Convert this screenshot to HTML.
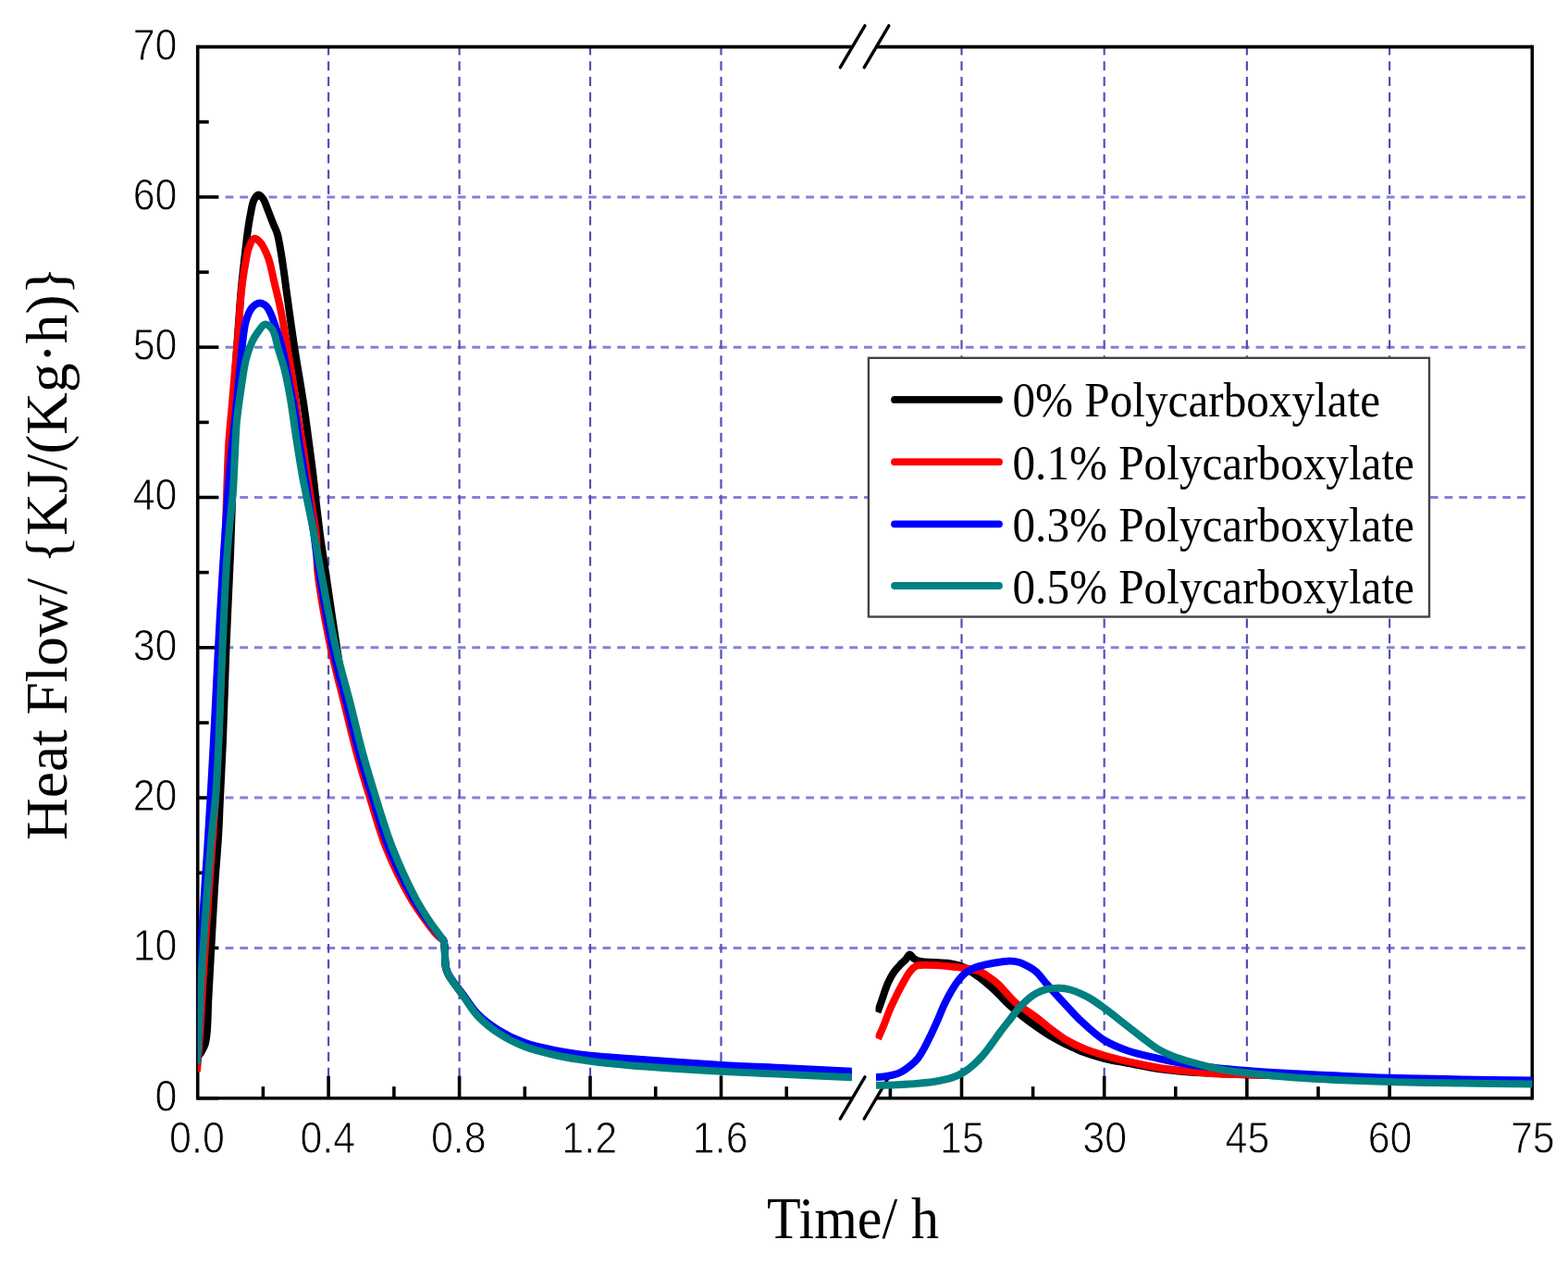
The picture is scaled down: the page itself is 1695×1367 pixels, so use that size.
<!DOCTYPE html>
<html><head><meta charset="utf-8"><title>Heat Flow</title>
<style>html,body{margin:0;padding:0;background:#fff;}body{width:1695px;height:1367px;overflow:hidden;}svg{display:block;filter:blur(0.45px);}text{font-family:"Liberation Sans",Arial,sans-serif;}.serif{font-family:"Liberation Serif","Times New Roman",serif;}</style>
</head><body>
<svg width="1695" height="1367" viewBox="0 0 1695 1367">
<rect x="0" y="0" width="1695" height="1367" fill="#fff"/>
<g stroke="#8580da" stroke-width="3" stroke-dasharray="8.8 6.89"><line x1="212.2" y1="1024.40" x2="1649.0" y2="1024.40"/><line x1="212.2" y1="862.10" x2="1649.0" y2="862.10"/><line x1="212.2" y1="699.80" x2="1649.0" y2="699.80"/><line x1="212.2" y1="537.50" x2="1649.0" y2="537.50"/><line x1="212.2" y1="375.20" x2="1649.0" y2="375.20"/><line x1="212.2" y1="212.90" x2="1649.0" y2="212.90"/></g>
<g stroke="#5250b4" stroke-width="2.2" stroke-dasharray="9.9 6.83"><line x1="355.1" y1="49.6" x2="355.1" y2="1186.7"/><line x1="496.6" y1="49.6" x2="496.6" y2="1186.7"/><line x1="638.0" y1="49.6" x2="638.0" y2="1186.7"/><line x1="779.5" y1="49.6" x2="779.5" y2="1186.7"/><line x1="1039.5" y1="49.6" x2="1039.5" y2="1186.7"/><line x1="1193.7" y1="49.6" x2="1193.7" y2="1186.7"/><line x1="1347.9" y1="49.6" x2="1347.9" y2="1186.7"/><line x1="1502.1" y1="49.6" x2="1502.1" y2="1186.7"/></g>
<g stroke="#000" stroke-width="3.6" stroke-linecap="butt"><line x1="213.7" y1="48.8" x2="213.7" y2="1188.5"/><line x1="1656.3" y1="48.8" x2="1656.3" y2="1188.5"/><line x1="213.7" y1="50.6" x2="921.2" y2="50.6"/><line x1="947.2" y1="50.6" x2="1656.3" y2="50.6"/><line x1="213.7" y1="1186.7" x2="921.2" y2="1186.7"/><line x1="947.2" y1="1186.7" x2="1656.3" y2="1186.7"/><line x1="213.7" y1="1186.7" x2="236.2" y2="1186.7"/><line x1="213.7" y1="1105.5" x2="225.7" y2="1105.5"/><line x1="213.7" y1="1024.4" x2="236.2" y2="1024.4"/><line x1="213.7" y1="943.2" x2="225.7" y2="943.2"/><line x1="213.7" y1="862.1" x2="236.2" y2="862.1"/><line x1="213.7" y1="781.0" x2="225.7" y2="781.0"/><line x1="213.7" y1="699.8" x2="236.2" y2="699.8"/><line x1="213.7" y1="618.6" x2="225.7" y2="618.6"/><line x1="213.7" y1="537.5" x2="236.2" y2="537.5"/><line x1="213.7" y1="456.4" x2="225.7" y2="456.4"/><line x1="213.7" y1="375.2" x2="236.2" y2="375.2"/><line x1="213.7" y1="294.1" x2="225.7" y2="294.1"/><line x1="213.7" y1="212.9" x2="236.2" y2="212.9"/><line x1="213.7" y1="131.8" x2="225.7" y2="131.8"/><line x1="284.4" y1="1186.7" x2="284.4" y2="1174.2"/><line x1="355.1" y1="1186.7" x2="355.1" y2="1162.7"/><line x1="425.9" y1="1186.7" x2="425.9" y2="1174.2"/><line x1="496.6" y1="1186.7" x2="496.6" y2="1162.7"/><line x1="567.3" y1="1186.7" x2="567.3" y2="1174.2"/><line x1="638.0" y1="1186.7" x2="638.0" y2="1162.7"/><line x1="708.7" y1="1186.7" x2="708.7" y2="1174.2"/><line x1="779.5" y1="1186.7" x2="779.5" y2="1162.7"/><line x1="850.2" y1="1186.7" x2="850.2" y2="1174.2"/><line x1="962.4" y1="1186.7" x2="962.4" y2="1174.2"/><line x1="1039.5" y1="1186.7" x2="1039.5" y2="1162.7"/><line x1="1116.6" y1="1186.7" x2="1116.6" y2="1174.2"/><line x1="1193.7" y1="1186.7" x2="1193.7" y2="1162.7"/><line x1="1270.8" y1="1186.7" x2="1270.8" y2="1174.2"/><line x1="1347.9" y1="1186.7" x2="1347.9" y2="1162.7"/><line x1="1425.0" y1="1186.7" x2="1425.0" y2="1174.2"/><line x1="1502.1" y1="1186.7" x2="1502.1" y2="1162.7"/></g>
<g stroke="#000" stroke-width="3.4" stroke-linecap="round"><line x1="908.3" y1="72.9" x2="934.9" y2="27.8"/><line x1="934.2" y1="72.9" x2="960.8" y2="27.8"/><line x1="908.3" y1="1209.0" x2="934.9" y2="1163.9"/><line x1="934.2" y1="1209.0" x2="960.8" y2="1163.9"/></g>
<g fill="none" stroke-width="8.0" stroke-linejoin="round" stroke-linecap="butt">
<clipPath id="cl"><rect x="213.7" y="0" width="707.2" height="1367"/></clipPath>
<clipPath id="cr"><rect x="946.5" y="0" width="709.8" height="1367"/></clipPath>
<path clip-path="url(#cl)" stroke="#000000" d="M213.0,1143.0 C213.0,1143.0 216.1,1139.2 217.5,1137.0 C219.0,1134.6 220.5,1132.1 221.5,1129.0 C222.8,1125.1 223.2,1120.7 223.8,1115.0 C224.7,1106.0 224.7,1092.7 225.3,1080.0 C226.0,1064.8 227.0,1048.1 228.0,1030.0 C229.2,1008.6 230.6,982.4 232.0,960.0 C233.3,939.2 235.3,917.7 236.3,900.0 C237.1,885.9 237.3,876.2 238.0,862.0 C238.8,843.8 240.0,823.1 241.0,800.0 C242.2,770.6 243.2,733.3 244.5,700.0 C245.8,666.7 247.9,629.1 249.0,600.0 C249.9,577.5 250.5,559.1 251.0,540.0 C251.5,522.6 251.7,505.7 252.0,490.0 C252.2,475.9 252.1,464.1 252.5,450.0 C252.9,434.1 253.6,415.7 254.5,399.5 C255.3,384.3 256.5,370.2 257.5,355.6 C258.6,341.0 259.5,325.7 260.8,311.7 C262.0,298.9 263.6,285.8 264.8,275.0 C265.8,266.4 266.5,259.3 267.5,252.0 C268.4,245.4 269.3,239.1 270.5,233.0 C271.7,227.2 272.5,219.9 274.6,216.0 C275.9,213.4 277.8,210.6 279.5,210.5 C281.1,210.4 283.0,212.9 284.5,215.0 C286.7,218.1 288.2,223.7 290.0,228.0 C291.7,232.3 293.3,236.8 295.0,241.0 C296.6,245.1 298.6,248.6 299.9,253.0 C301.4,258.2 302.2,264.1 303.3,270.2 C304.5,277.3 305.7,285.3 306.8,293.0 C307.9,300.9 308.7,307.2 310.0,317.0 C312.1,332.2 315.3,355.9 318.3,375.6 C321.4,395.8 325.4,417.3 328.3,437.0 C331.0,455.3 333.5,474.5 335.5,490.0 C337.1,502.0 338.4,512.2 339.5,522.0 C340.5,530.3 341.0,536.6 342.0,545.0 C343.2,555.0 344.5,566.6 346.0,578.0 C347.7,590.5 349.5,601.6 351.8,617.0 C355.1,639.4 360.1,674.4 364.1,699.7 C367.5,721.1 370.1,739.9 374.0,759.0 C377.7,777.1 382.2,794.3 386.7,811.6 C391.2,828.5 396.0,844.6 401.2,861.6 C406.7,879.6 412.0,898.8 419.1,916.8 C426.4,934.8 436.1,954.8 444.4,969.5 C450.8,980.7 457.7,990.4 463.2,998.0 C467.2,1003.4 470.9,1008.2 474.0,1011.5 C476.0,1013.6 478.2,1014.2 479.3,1016.2 C480.4,1018.3 480.2,1020.6 480.6,1023.7 C481.2,1028.9 480.8,1039.4 481.8,1044.7 C482.4,1048.1 483.2,1050.1 484.5,1052.7 C485.9,1055.6 487.8,1058.1 490.0,1061.2 C492.9,1065.4 496.8,1070.2 500.6,1075.4 C505.3,1081.7 509.9,1090.0 516.0,1096.4 C522.3,1103.0 529.9,1108.9 538.0,1114.1 C546.6,1119.7 556.4,1124.7 566.5,1128.5 C576.9,1132.4 587.9,1134.8 599.4,1137.2 C611.8,1139.8 625.2,1141.8 638.5,1143.4 C652.1,1145.1 663.2,1145.9 680.0,1147.2 C706.1,1149.3 749.6,1152.3 780.0,1154.0 C805.4,1155.5 826.3,1156.2 850.0,1157.3 C874.6,1158.5 925.0,1160.9 925.0,1160.9"/>
<path clip-path="url(#cl)" stroke="#ff0000" d="M213.0,1158.0 C213.0,1158.0 215.0,1134.1 216.0,1120.0 C217.2,1102.3 218.2,1080.8 219.5,1060.0 C220.9,1037.6 222.4,1013.3 224.0,990.0 C225.6,966.7 227.4,942.2 229.0,920.0 C230.4,899.8 231.8,883.0 233.0,862.0 C234.5,837.0 235.8,807.2 237.0,780.0 C238.2,753.2 239.1,726.7 240.0,700.0 C240.9,673.3 241.7,646.9 242.5,620.0 C243.3,592.6 244.1,562.1 245.0,537.0 C245.7,516.2 246.2,496.9 247.2,480.0 C248.0,466.4 249.2,456.2 250.3,443.4 C251.5,429.4 252.8,414.1 254.0,399.5 C255.3,384.9 256.6,370.2 257.8,355.6 C259.0,341.0 259.8,324.4 261.3,311.7 C262.4,301.8 263.8,293.3 265.2,285.4 C266.4,278.9 267.1,272.7 269.0,267.8 C270.5,263.9 272.3,258.4 274.6,257.8 C276.5,257.3 279.0,259.4 281.0,261.5 C284.3,264.9 287.5,272.3 290.0,278.8 C292.9,286.5 294.3,296.1 296.5,305.0 C298.7,314.3 301.2,323.9 303.2,333.7 C305.3,343.9 307.0,354.5 308.8,365.0 C310.6,375.6 312.5,386.7 314.2,397.0 C315.8,406.6 317.2,415.9 318.5,425.0 C319.7,433.6 320.5,441.3 321.8,450.0 C323.3,459.6 325.4,470.0 327.0,480.0 C328.6,490.0 330.0,500.0 331.5,510.0 C333.0,520.0 334.4,529.3 336.0,540.0 C337.9,552.4 340.8,566.9 342.0,580.0 C343.2,592.5 341.8,602.3 343.3,617.0 C345.6,639.2 352.2,674.5 357.4,699.7 C361.9,721.2 367.2,739.8 371.9,759.0 C376.4,777.1 380.3,794.3 385.0,811.6 C389.6,828.5 394.4,844.6 399.7,861.6 C405.3,879.6 410.4,898.9 417.6,916.8 C424.9,934.8 434.8,954.9 443.2,969.5 C449.7,980.7 456.8,990.4 462.5,998.0 C466.5,1003.4 470.2,1008.3 473.5,1011.5 C475.6,1013.6 478.1,1014.2 479.3,1016.2 C480.5,1018.3 480.2,1020.6 480.6,1023.7 C481.2,1028.9 480.8,1039.4 481.8,1044.7 C482.4,1048.1 483.2,1050.1 484.5,1052.7 C485.9,1055.6 487.8,1058.1 490.0,1061.2 C492.9,1065.4 496.8,1070.2 500.6,1075.4 C505.3,1081.7 509.9,1090.0 516.0,1096.4 C522.3,1103.0 529.9,1108.9 538.0,1114.1 C546.6,1119.7 556.4,1124.7 566.5,1128.5 C576.9,1132.4 587.9,1134.8 599.4,1137.2 C611.8,1139.8 625.2,1141.8 638.5,1143.4 C652.1,1145.1 663.2,1145.9 680.0,1147.2 C706.1,1149.3 749.6,1152.3 780.0,1154.0 C805.4,1155.5 826.3,1156.2 850.0,1157.3 C874.6,1158.5 925.0,1160.9 925.0,1160.9"/>
<path clip-path="url(#cl)" stroke="#0000ff" d="M213.0,1150.0 C213.0,1150.0 214.8,1117.4 215.5,1100.0 C216.2,1080.9 216.3,1060.0 217.0,1040.0 C217.8,1020.0 218.8,1000.0 220.0,980.0 C221.2,960.0 222.7,939.8 224.0,920.0 C225.2,900.5 226.3,883.0 227.5,862.0 C228.9,837.0 230.6,807.2 232.0,780.0 C233.4,753.2 234.6,726.7 236.0,700.0 C237.4,673.3 239.0,644.7 240.5,620.0 C241.8,598.6 243.1,579.6 244.5,560.0 C245.8,541.3 247.0,521.8 248.5,505.0 C249.8,490.7 251.4,478.0 252.7,465.4 C253.9,453.9 254.9,443.5 256.0,432.5 C257.1,421.5 258.2,410.5 259.3,399.5 C260.4,388.5 261.3,376.2 262.6,366.6 C263.6,359.1 264.1,352.8 265.9,346.8 C267.5,341.5 269.5,335.8 272.4,332.5 C274.7,329.9 278.1,327.6 280.8,327.5 C283.3,327.4 286.1,329.3 288.0,331.0 C289.9,332.8 290.8,335.1 292.2,338.0 C294.4,342.5 296.7,349.4 298.8,355.6 C301.1,362.5 303.4,369.5 305.4,377.6 C307.9,387.4 309.8,399.5 312.0,410.5 C314.2,421.5 316.7,432.5 318.5,443.4 C320.3,454.0 321.4,464.6 323.0,475.0 C324.6,485.1 326.4,494.8 328.0,505.0 C329.7,515.5 331.2,526.0 333.0,537.2 C334.9,549.3 337.1,562.1 339.0,575.0 C341.0,588.6 342.2,600.7 344.8,617.0 C348.4,640.0 354.2,674.5 359.6,699.7 C364.2,721.2 369.6,739.8 374.4,759.0 C379.0,777.1 383.0,794.3 387.7,811.6 C392.4,828.5 397.3,844.6 402.6,861.6 C408.2,879.6 413.4,898.8 420.6,916.8 C427.8,934.8 437.6,954.8 445.9,969.5 C452.3,980.7 459.2,990.4 464.7,998.0 C468.7,1003.4 472.8,1008.2 475.5,1011.5 C477.1,1013.4 478.4,1014.2 479.3,1016.0 C480.3,1018.1 480.2,1020.4 480.6,1023.5 C481.2,1028.7 480.8,1039.2 481.8,1044.5 C482.4,1047.9 483.2,1049.9 484.5,1052.5 C485.9,1055.4 487.8,1057.9 490.0,1061.0 C492.9,1065.1 496.8,1069.8 500.6,1074.9 C505.3,1081.0 509.9,1089.2 516.0,1095.4 C522.3,1101.9 529.9,1107.6 538.0,1112.6 C546.6,1118.0 556.5,1122.9 566.5,1126.6 C576.9,1130.4 587.9,1132.6 599.4,1134.9 C611.8,1137.4 625.2,1139.2 638.5,1140.7 C652.1,1142.2 663.2,1142.8 680.0,1144.0 C706.1,1145.9 749.6,1149.1 780.0,1150.9 C805.4,1152.4 826.3,1153.1 850.0,1154.3 C874.6,1155.5 925.0,1158.0 925.0,1158.0"/>
<path clip-path="url(#cl)" stroke="#008080" d="M213.0,1150.0 C213.0,1150.0 214.7,1116.7 215.5,1100.0 C216.3,1083.3 217.0,1066.7 218.0,1050.0 C219.0,1033.3 220.2,1016.7 221.4,1000.0 C222.6,983.3 223.7,966.7 225.0,950.0 C226.3,933.3 227.6,915.5 229.0,900.0 C230.3,886.5 231.9,876.2 233.0,862.0 C234.5,843.9 235.4,823.1 236.5,800.0 C237.9,770.6 239.0,733.3 240.5,700.0 C242.0,666.7 243.7,625.8 245.5,600.0 C246.6,583.7 247.8,572.4 249.0,560.0 C250.0,549.3 251.2,540.7 252.0,530.0 C252.9,517.6 253.3,502.9 254.0,490.0 C254.6,477.8 254.9,466.0 256.0,454.4 C257.1,443.2 258.8,432.5 260.4,421.5 C262.1,410.5 263.5,398.0 265.9,388.6 C267.7,381.3 269.9,374.9 272.4,369.5 C274.4,365.2 276.5,361.8 279.0,358.5 C281.3,355.5 283.8,350.8 286.5,350.5 C289.0,350.2 292.2,353.0 294.4,356.0 C297.7,360.5 298.8,370.4 301.0,377.6 C303.2,384.9 305.6,391.4 307.6,399.5 C310.1,409.3 312.3,421.5 314.2,432.5 C316.1,443.5 317.5,455.2 319.0,465.4 C320.3,474.2 321.5,481.8 322.8,490.0 C324.1,498.3 325.5,506.7 327.0,515.0 C328.5,523.3 330.2,530.9 332.0,540.0 C334.2,551.1 337.1,564.4 339.5,577.0 C342.0,590.1 343.8,601.3 346.8,617.0 C351.1,639.6 357.2,674.5 362.9,699.7 C367.8,721.2 373.5,739.8 378.4,759.0 C383.0,777.0 386.8,794.3 391.5,811.6 C396.1,828.5 400.9,844.6 406.2,861.6 C411.8,879.6 417.4,898.8 424.5,916.8 C431.6,934.8 440.8,954.8 448.6,969.5 C454.5,980.7 460.8,990.3 466.0,998.0 C469.7,1003.4 473.6,1008.1 476.0,1011.5 C477.4,1013.5 478.5,1014.6 479.3,1016.5 C480.2,1018.7 480.2,1020.9 480.6,1024.0 C481.2,1029.2 480.8,1039.7 481.8,1045.0 C482.4,1048.4 483.2,1050.4 484.5,1053.0 C485.9,1055.9 487.8,1058.3 490.0,1061.5 C492.9,1065.7 496.8,1070.7 500.6,1076.0 C505.3,1082.5 509.9,1090.9 516.0,1097.5 C522.3,1104.3 529.9,1110.6 538.0,1116.0 C546.6,1121.7 556.4,1126.8 566.5,1130.8 C576.9,1134.9 587.9,1137.4 599.4,1140.0 C611.8,1142.8 625.2,1144.9 638.5,1146.8 C652.1,1148.7 663.2,1149.8 680.0,1151.2 C706.1,1153.4 749.6,1156.1 780.0,1157.8 C805.4,1159.2 826.3,1159.9 850.0,1161.0 C874.6,1162.1 925.0,1164.5 925.0,1164.5"/>
<path clip-path="url(#cr)" stroke="#000000" d="M948.5,1094.0 C948.5,1094.0 951.0,1087.2 952.5,1083.0 C954.6,1077.3 957.1,1068.5 959.7,1062.7 C961.7,1058.2 963.7,1054.4 966.0,1051.0 C968.1,1047.9 970.6,1045.3 972.9,1042.9 C974.9,1040.7 977.2,1039.0 979.0,1037.0 C980.7,1035.2 981.9,1031.6 983.4,1031.5 C984.9,1031.4 986.2,1034.8 988.0,1036.0 C990.0,1037.3 992.4,1038.3 995.3,1039.0 C999.3,1039.9 1005.0,1039.7 1010.0,1040.0 C1015.1,1040.3 1020.4,1040.1 1025.6,1041.0 C1031.0,1041.9 1036.7,1043.1 1042.0,1045.5 C1047.7,1048.0 1053.1,1052.1 1058.5,1056.1 C1064.1,1060.3 1069.6,1065.1 1075.0,1070.0 C1080.6,1075.1 1086.1,1081.5 1091.4,1086.4 C1096.1,1090.7 1100.3,1094.3 1105.0,1098.0 C1109.8,1101.8 1114.8,1105.5 1120.0,1109.1 C1125.3,1112.8 1130.9,1116.7 1136.5,1120.0 C1141.9,1123.2 1147.4,1126.1 1153.0,1128.9 C1158.6,1131.6 1163.8,1134.2 1170.0,1136.5 C1177.1,1139.2 1185.4,1141.7 1193.5,1143.8 C1202.0,1146.0 1210.7,1147.2 1220.0,1149.0 C1230.2,1150.9 1241.2,1153.4 1252.0,1155.0 C1262.9,1156.6 1272.2,1157.5 1285.0,1158.5 C1302.6,1159.8 1326.3,1160.4 1348.0,1161.2 C1371.2,1162.1 1395.2,1162.7 1420.0,1163.6 C1446.4,1164.5 1475.0,1165.8 1502.0,1166.5 C1528.3,1167.2 1553.8,1167.6 1580.0,1168.0 C1606.5,1168.4 1660.0,1169.0 1660.0,1169.0"/>
<path clip-path="url(#cr)" stroke="#ff0000" d="M949.0,1122.5 C949.0,1122.5 952.6,1114.6 954.5,1110.0 C956.8,1104.6 959.1,1097.6 961.5,1092.0 C963.6,1087.0 965.8,1082.5 968.0,1078.0 C970.1,1073.6 972.0,1069.7 974.5,1065.3 C977.3,1060.3 980.9,1053.3 984.0,1049.5 C986.0,1047.0 987.9,1045.1 990.0,1044.0 C991.7,1043.1 993.1,1043.1 995.3,1042.9 C999.0,1042.5 1005.0,1042.8 1010.0,1043.0 C1015.1,1043.2 1020.3,1043.7 1025.6,1044.2 C1031.0,1044.7 1036.5,1045.1 1042.0,1046.0 C1047.5,1046.9 1053.9,1047.7 1058.5,1049.5 C1062.2,1050.9 1064.8,1052.9 1068.0,1055.0 C1071.4,1057.3 1074.4,1059.3 1078.2,1062.7 C1083.9,1067.8 1090.9,1077.5 1098.0,1083.7 C1104.9,1089.6 1113.3,1094.1 1120.0,1099.2 C1126.0,1103.7 1130.9,1108.2 1136.5,1112.4 C1141.9,1116.5 1147.4,1120.7 1153.0,1124.0 C1158.4,1127.2 1163.5,1129.6 1169.6,1132.2 C1176.8,1135.2 1185.3,1138.0 1193.5,1140.5 C1201.8,1143.0 1210.0,1145.0 1219.1,1147.1 C1229.4,1149.4 1241.1,1151.9 1252.1,1153.7 C1263.1,1155.5 1274.2,1156.6 1285.2,1157.8 C1296.2,1158.9 1307.5,1160.0 1318.2,1160.6 C1328.4,1161.1 1337.9,1160.9 1348.0,1161.2 C1358.5,1161.5 1368.7,1161.9 1380.0,1162.3 C1392.6,1162.7 1404.3,1163.1 1420.0,1163.6 C1442.5,1164.3 1475.0,1165.6 1502.0,1166.3 C1528.3,1167.0 1553.8,1167.6 1580.0,1168.0 C1606.5,1168.5 1660.0,1169.0 1660.0,1169.0"/>
<path clip-path="url(#cr)" stroke="#0000ff" d="M947.0,1164.0 C947.0,1164.0 952.1,1163.9 955.0,1163.5 C958.5,1163.1 962.8,1162.4 966.3,1161.4 C969.4,1160.5 972.2,1159.5 975.0,1158.0 C977.9,1156.4 980.7,1154.4 983.4,1152.2 C986.3,1149.8 989.4,1147.2 992.0,1144.0 C994.7,1140.6 996.9,1136.5 999.2,1132.4 C1001.6,1128.1 1003.7,1123.7 1006.0,1119.0 C1008.5,1113.7 1011.2,1107.9 1013.7,1102.2 C1016.2,1096.5 1018.3,1090.6 1021.0,1085.0 C1023.6,1079.6 1026.7,1073.8 1029.5,1069.2 C1031.7,1065.5 1033.7,1062.4 1036.0,1059.5 C1038.1,1056.8 1040.3,1054.1 1042.7,1052.1 C1045.0,1050.2 1047.4,1048.8 1050.0,1047.5 C1052.7,1046.2 1055.2,1045.2 1058.5,1044.2 C1063.1,1042.8 1069.5,1041.5 1075.0,1040.5 C1080.5,1039.6 1086.5,1038.5 1091.4,1038.5 C1095.3,1038.5 1098.7,1039.0 1102.0,1040.0 C1105.2,1040.9 1108.2,1042.6 1111.2,1044.2 C1114.2,1045.9 1117.1,1047.4 1120.0,1050.0 C1123.7,1053.2 1127.9,1059.2 1130.9,1062.7 C1133.1,1065.2 1134.1,1066.4 1136.5,1069.0 C1140.5,1073.5 1147.5,1081.1 1153.0,1087.0 C1158.5,1092.8 1163.4,1098.4 1169.6,1104.2 C1176.7,1110.8 1185.0,1118.7 1193.5,1124.0 C1201.6,1129.0 1209.9,1132.3 1219.1,1135.5 C1229.3,1139.0 1241.1,1141.3 1252.1,1143.8 C1263.1,1146.3 1272.4,1148.4 1285.2,1150.4 C1302.8,1153.1 1328.0,1155.3 1348.0,1157.0 C1366.1,1158.5 1379.8,1159.2 1400.0,1160.3 C1428.3,1161.8 1470.3,1163.8 1502.0,1164.8 C1529.7,1165.7 1553.8,1166.1 1580.0,1166.5 C1606.5,1167.0 1660.0,1167.5 1660.0,1167.5"/>
<path clip-path="url(#cr)" stroke="#008080" d="M947.0,1172.8 C947.0,1172.8 962.4,1172.5 970.0,1172.2 C977.6,1171.9 985.2,1171.5 992.7,1170.8 C1000.2,1170.1 1008.1,1169.3 1015.0,1168.0 C1021.1,1166.8 1027.4,1165.3 1032.2,1163.5 C1036.0,1162.0 1038.8,1160.5 1042.0,1158.5 C1045.4,1156.4 1048.8,1153.7 1052.0,1150.9 C1055.4,1147.9 1058.8,1144.6 1062.0,1141.0 C1065.4,1137.2 1068.5,1132.7 1071.7,1128.5 C1074.9,1124.2 1077.8,1119.8 1081.0,1115.5 C1084.3,1111.1 1088.0,1106.5 1091.4,1102.2 C1094.7,1098.0 1097.6,1093.8 1101.0,1090.0 C1104.2,1086.3 1107.8,1082.7 1111.2,1079.8 C1114.1,1077.3 1116.8,1075.2 1120.0,1073.5 C1123.3,1071.7 1127.0,1070.2 1130.9,1069.2 C1135.2,1068.2 1140.3,1067.7 1144.8,1067.8 C1149.0,1067.9 1153.0,1068.4 1157.0,1069.5 C1161.2,1070.6 1165.6,1072.5 1169.6,1074.4 C1173.6,1076.2 1177.2,1078.1 1181.0,1080.5 C1185.1,1083.1 1188.6,1085.7 1193.5,1089.3 C1200.6,1094.5 1211.6,1103.3 1219.1,1109.1 C1225.0,1113.7 1229.6,1117.4 1235.0,1121.5 C1240.6,1125.7 1246.3,1130.5 1252.1,1133.9 C1257.4,1137.0 1262.5,1139.3 1268.0,1141.5 C1273.6,1143.7 1278.5,1145.2 1285.2,1147.1 C1294.4,1149.7 1307.4,1153.3 1318.2,1155.4 C1328.3,1157.4 1336.7,1158.2 1348.0,1159.5 C1362.9,1161.2 1379.8,1163.0 1400.0,1164.4 C1428.3,1166.4 1470.3,1168.0 1502.0,1169.0 C1529.7,1169.9 1553.8,1170.1 1580.0,1170.5 C1606.5,1170.9 1660.0,1171.5 1660.0,1171.5"/>
</g>
<g font-size="43" fill="#000" stroke="#fff" stroke-width="0.80"><text transform="translate(191.5,1200.6) scale(1.000,1.120)" text-anchor="end">0</text><text transform="translate(191.5,1038.3) scale(1.000,1.120)" text-anchor="end">10</text><text transform="translate(191.5,876.0) scale(1.000,1.120)" text-anchor="end">20</text><text transform="translate(191.5,713.7) scale(1.000,1.120)" text-anchor="end">30</text><text transform="translate(191.5,551.4) scale(1.000,1.120)" text-anchor="end">40</text><text transform="translate(191.5,389.1) scale(1.000,1.120)" text-anchor="end">50</text><text transform="translate(191.5,226.8) scale(1.000,1.120)" text-anchor="end">60</text><text transform="translate(191.5,64.5) scale(1.000,1.120)" text-anchor="end">70</text><text transform="translate(212.9,1246.3) scale(1.000,1.120)" text-anchor="middle">0.0</text><text transform="translate(354.3,1246.3) scale(1.000,1.120)" text-anchor="middle">0.4</text><text transform="translate(495.8,1246.3) scale(1.000,1.120)" text-anchor="middle">0.8</text><text transform="translate(637.2,1246.3) scale(1.000,1.120)" text-anchor="middle">1.2</text><text transform="translate(778.7,1246.3) scale(1.000,1.120)" text-anchor="middle">1.6</text><text transform="translate(1040.0,1246.3) scale(1.000,1.120)" text-anchor="middle">15</text><text transform="translate(1194.2,1246.3) scale(1.000,1.120)" text-anchor="middle">30</text><text transform="translate(1348.4,1246.3) scale(1.000,1.120)" text-anchor="middle">45</text><text transform="translate(1502.6,1246.3) scale(1.000,1.120)" text-anchor="middle">60</text><text transform="translate(1656.8,1246.3) scale(1.000,1.120)" text-anchor="middle">75</text></g>
<text class="serif" transform="translate(922,1337.6) scale(1,1.065)" font-size="60" text-anchor="middle" fill="#000">Time/ h</text>
<text class="serif" transform="translate(71.9,598) rotate(-90)" x="0" y="0" font-size="63.3" text-anchor="middle" fill="#000">Heat Flow/ {KJ/(Kg&#183;h)}</text>
<rect x="938.9" y="386.8" width="606.1" height="279.7" fill="#fff" stroke="#444" stroke-width="2.4"/>
<line x1="967" y1="431.9" x2="1080" y2="431.9" stroke="#000000" stroke-width="7.8" stroke-linecap="round"/>
<text class="serif" transform="translate(1094.5,450.4) scale(1,1.09)" font-size="49.2" fill="#000">0% Polycarboxylate</text>
<line x1="967" y1="499.2" x2="1080" y2="499.2" stroke="#ff0000" stroke-width="7.8" stroke-linecap="round"/>
<text class="serif" transform="translate(1094.5,517.7) scale(1,1.09)" font-size="49.2" fill="#000">0.1% Polycarboxylate</text>
<line x1="967" y1="566.3" x2="1080" y2="566.3" stroke="#0000ff" stroke-width="7.8" stroke-linecap="round"/>
<text class="serif" transform="translate(1094.5,584.8) scale(1,1.09)" font-size="49.2" fill="#000">0.3% Polycarboxylate</text>
<line x1="967" y1="633.0" x2="1080" y2="633.0" stroke="#008080" stroke-width="7.8" stroke-linecap="round"/>
<text class="serif" transform="translate(1094.5,651.5) scale(1,1.09)" font-size="49.2" fill="#000">0.5% Polycarboxylate</text>
</svg></body></html>
